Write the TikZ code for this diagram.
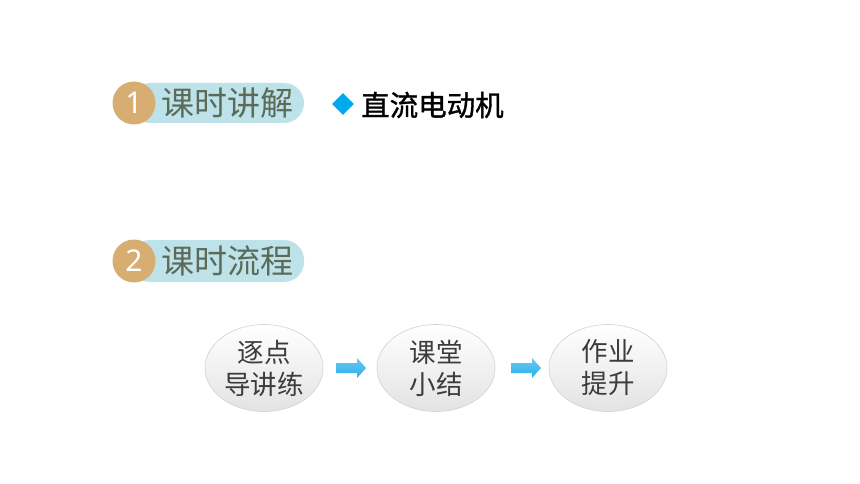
\documentclass[tikz,border=0pt]{standalone}
\usepackage{fontspec}
\setmainfont{Noto Sans CJK SC}
\newfontfamily\latinsans{Noto Sans}
\newfontfamily\cjkheavy[FakeBold=1.2]{Noto Sans CJK SC}
\usetikzlibrary{shapes.geometric}
\definecolor{pillblue}{HTML}{BEE2EA}
\definecolor{badgegold}{HTML}{D7AD72}
\definecolor{titlegreen}{HTML}{5B6B57}
\definecolor{diamondblue}{HTML}{00A8EC}
\definecolor{arrowblue}{HTML}{29B1EA}
\definecolor{ovaltext}{HTML}{3C3C3C}
\tikzset{
  pill/.style={fill=pillblue, rounded corners=20pt, draw=none},
  badge/.style={circle, fill=badgegold, minimum size=43pt, inner sep=0pt, text=white, font=\latinsans\fontsize{30}{30}\selectfont},
  sectitle/.style={anchor=west, text=titlegreen, inner sep=0pt, font=\fontsize{33}{33}\selectfont},
  oval/.style={ellipse, minimum width=118pt, minimum height=87pt, draw=gray!35, line width=0.6pt,
     top color=white, bottom color=gray!22, text=ovaltext, align=center, inner sep=0pt,
     font=\fontsize{26.5}{32}\selectfont},
  flowarrow/.style={draw=none, top color=arrowblue!70, bottom color=arrowblue},
}
\newcommand{\fatarrow}[1]{%
  \path[flowarrow] ([shift={(-15,-5)}]#1) -- ([shift={(6,-5)}]#1) -- ([shift={(6,-10)}]#1)
    -- ([shift={(15,0)}]#1) -- ([shift={(6,10)}]#1) -- ([shift={(6,5)}]#1) -- ([shift={(-15,5)}]#1) -- cycle;}
\begin{document}
\begin{tikzpicture}[x=1pt,y=-1pt]
\useasboundingbox[fill=white] (0,0) rectangle (860,484);
% section 1
\fill[pill] (130,83) rectangle (304,123);
\node[badge] (b1) at (134,103) {1};
\node[sectitle] (t1) at (161,103) {课时讲解};
\node[diamond, fill=diamondblue, minimum width=22pt, minimum height=22pt, inner sep=0pt] (d1) at (343,104) {};
\node[anchor=west, inner sep=0pt, font=\cjkheavy\fontsize{28.5}{28.5}\selectfont] (h1) at (361,105) {直流电动机};
% section 2
\fill[pill] (130,240) rectangle (304,282);
\node[badge] (b2) at (134,261) {2};
\node[sectitle] (t2) at (161,261) {课时流程};
% flow
\node[oval] (o1) at (264,368) {逐点\\导讲练};
\node[oval] (o2) at (436,368) {课堂\\小结};
\node[oval] (o3) at (608,368) {作业\\提升};
\coordinate (a1) at (351,368);
\coordinate (a2) at (526,368);
\fatarrow{a1}
\fatarrow{a2}
\end{tikzpicture}
\end{document}
